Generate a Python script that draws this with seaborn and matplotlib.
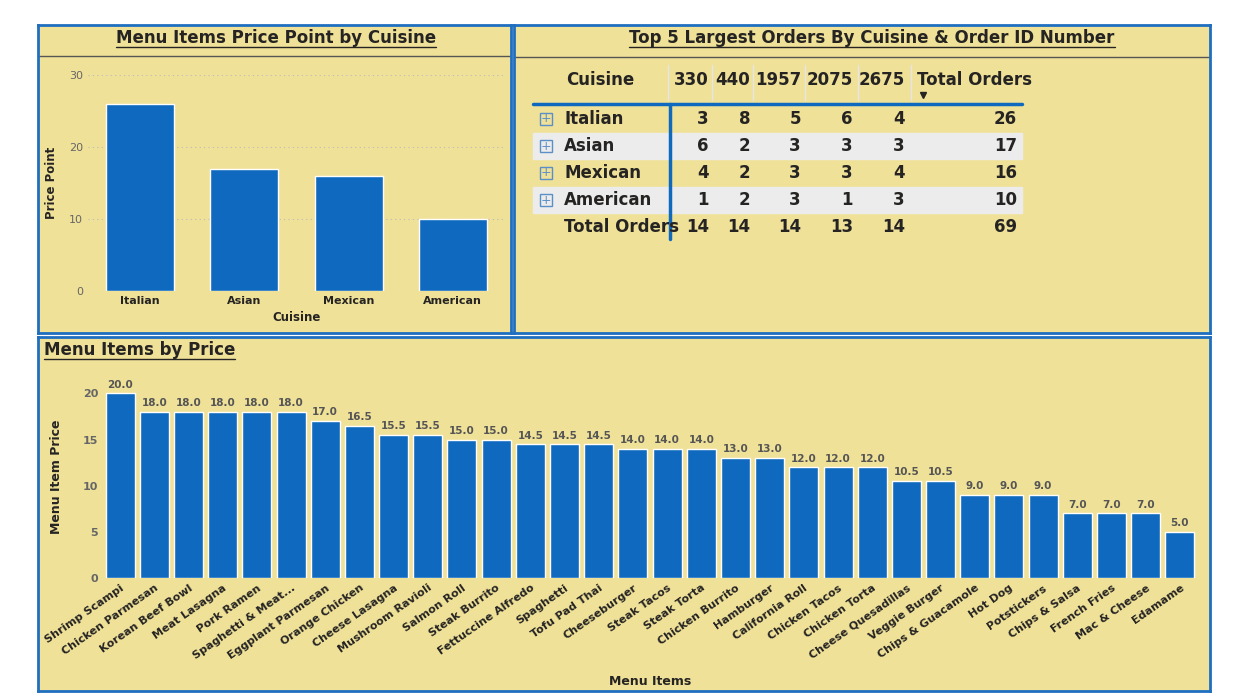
import numpy as np
import pandas as pd
import matplotlib
matplotlib.use("Agg")
import matplotlib.pyplot as plt
import seaborn as sns
from matplotlib.patches import Rectangle

# ---- data ----
cuisines = ["Italian", "Asian", "Mexican", "American"]
cuisine_price = [26, 17, 16, 10]

order_ids = ["330", "440", "1957", "2075", "2675"]
orders_italian = [3, 8, 5, 6, 4]
orders_asian = [6, 2, 3, 3, 3]
orders_mexican = [4, 2, 3, 3, 4]
orders_american = [1, 2, 3, 1, 3]

menu_items = ["Shrimp Scampi", "Chicken Parmesan", "Korean Beef Bowl", "Meat Lasagna",
              "Pork Ramen", "Spaghetti & Meat...", "Eggplant Parmesan", "Orange Chicken",
              "Cheese Lasagna", "Mushroom Ravioli", "Salmon Roll", "Steak Burrito",
              "Fettuccine Alfredo", "Spaghetti", "Tofu Pad Thai", "Cheeseburger",
              "Steak Tacos", "Steak Torta", "Chicken Burrito", "Hamburger",
              "California Roll", "Chicken Tacos", "Chicken Torta", "Cheese Quesadillas",
              "Veggie Burger", "Chips & Guacamole", "Hot Dog", "Potstickers",
              "Chips & Salsa", "French Fries", "Mac & Cheese", "Edamame"]
menu_prices = [20.0, 18.0, 18.0, 18.0, 18.0, 18.0, 17.0, 16.5, 15.5, 15.5, 15.0, 15.0,
               14.5, 14.5, 14.5, 14.0, 14.0, 14.0, 13.0, 13.0, 12.0, 12.0, 12.0, 10.5,
               10.5, 9.0, 9.0, 9.0, 7.0, 7.0, 7.0, 5.0]

BG = "#F0E198"
BLUE = "#0F6ABF"
BORDER = "#1F6FC0"
TXT = "#252423"
GREY = "#666666"

sns.set_style("white")
plt.rcParams["font.family"] = ["DejaVu Sans"]

W, H = 1235, 696
fig = plt.figure(figsize=(W / 100, H / 100), dpi=100)
fig.patch.set_facecolor("white")


def px_axes(x0, y0, x1, y1, **kw):
    return fig.add_axes([x0 / W, 1 - y1 / H, (x1 - x0) / W, (y1 - y0) / H], **kw)


def panel(x0, y0, x1, y1, title, title_x, title_y, centered=True, header_line=None):
    ax = px_axes(x0, y0, x1, y1)
    ax.set_xlim(x0, x1)
    ax.set_ylim(y1, y0)
    ax.set_facecolor(BG)
    ax.set_xticks([])
    ax.set_yticks([])
    for s in ax.spines.values():
        s.set_color(BORDER)
        s.set_linewidth(2)
    ha = "center" if centered else "left"
    t = ax.text(title_x, title_y, title, ha=ha, va="center", fontsize=12,
                fontweight="bold", color=TXT)
    fig.canvas.draw()
    bb = t.get_window_extent().transformed(ax.transData.inverted())
    ax.plot([bb.x0, bb.x1], [title_y + 9, title_y + 9], color=TXT, lw=1)
    if header_line is not None:
        ax.plot([x0, x1], [header_line, header_line], color="#555555", lw=1)
    ax.set_zorder(0)
    return ax


# ---- panels ----
panel(38, 25, 511, 333, "Menu Items Price Point by Cuisine", 276, 38, header_line=56)
tab = panel(514, 25, 1210, 333, "Top 5 Largest Orders By Cuisine & Order ID Number", 872, 38,
            header_line=57)
panel(38, 337, 1210, 691, "Menu Items by Price", 44, 350, centered=False)

# ---- top-left bar chart ----
ax1 = px_axes(88, 75, 505, 291)
ax1.set_zorder(2)
ax1.patch.set_alpha(0)
df1 = pd.DataFrame({"Cuisine": cuisines, "Price Point": cuisine_price})
sns.barplot(data=df1, x="Cuisine", y="Price Point", color=BLUE, saturation=1,
            width=0.65, ax=ax1)
ax1.set_ylim(0, 30)
ax1.set_yticks([0, 10, 20, 30])
ax1.yaxis.grid(True, linestyle=(0, (1, 3)), color="#bbbbbb")
ax1.set_axisbelow(True)
sns.despine(ax=ax1, left=True, bottom=True)
ax1.tick_params(length=0, labelsize=8)
for lbl in ax1.get_yticklabels():
    lbl.set_color(GREY)
for lbl in ax1.get_xticklabels():
    lbl.set_fontweight("bold")
    lbl.set_color(TXT)
ax1.set_xlabel("Cuisine", fontsize=8.5, fontweight="bold", color=TXT, labelpad=4)
ax1.set_ylabel("Price Point", fontsize=8.5, fontweight="bold", color=TXT, labelpad=8)

# ---- table ----
rows = [("Italian", orders_italian), ("Asian", orders_asian),
        ("Mexican", orders_mexican), ("American", orders_american)]
col_right = [709, 750, 801, 853, 905]
tot_right = 1017
row_y = [119, 146, 173, 200]
tab.set_zorder(1)
tab.text(600, 80, "Cuisine", ha="center", va="center", fontsize=12, fontweight="bold", color=TXT)
for cid, xr in zip(order_ids, col_right):
    tab.text(xr, 80, cid, ha="right", va="center", fontsize=12, fontweight="bold", color=TXT)
tab.text(917, 80, "Total Orders", ha="left", va="center", fontsize=12, fontweight="bold", color=TXT)
tab.plot([923], [95], marker="v", color=TXT, ms=5)
for i, (name, vals) in enumerate(rows):
    y = row_y[i]
    if i % 2 == 1:
        tab.add_patch(Rectangle((533, y - 13), 489, 26, color="#ECECEC", zorder=0))
    tab.add_patch(Rectangle((540, y - 6), 12, 12, fill=False, ec="#5B8FC7", lw=1, zorder=3))
    tab.text(546, y, "+", ha="center", va="center", fontsize=9, color="#5B8FC7", zorder=3)
    tab.text(564, y, name, ha="left", va="center", fontsize=12, fontweight="bold", color=TXT)
    for v, xr in zip(vals, col_right):
        tab.text(xr, y, str(v), ha="right", va="center", fontsize=12, fontweight="bold", color=TXT)
    tab.text(tot_right, y, str(sum(vals)), ha="right", va="center", fontsize=12,
             fontweight="bold", color=TXT)
col_tot = [sum(r[1][j] for r in rows) for j in range(len(order_ids))]
tab.text(564, 227, "Total Orders", ha="left", va="center", fontsize=12, fontweight="bold", color=TXT)
for v, xr in zip(col_tot, col_right):
    tab.text(xr, 227, str(v), ha="right", va="center", fontsize=12, fontweight="bold", color=TXT)
tab.text(tot_right, 227, str(sum(col_tot)), ha="right", va="center", fontsize=12,
         fontweight="bold", color=TXT)
tab.plot([533, 1022], [104, 104], color=BLUE, lw=2.5)
tab.plot([670, 670], [104, 239], color=BLUE, lw=2.5)
for xs in [668, 712, 753, 805, 858, 911]:
    tab.plot([xs, xs], [65, 100], color="#e6e6e6", lw=1)

# ---- bottom bar chart ----
ax3 = px_axes(103, 375, 1197, 578)
ax3.set_zorder(2)
ax3.patch.set_alpha(0)
df3 = pd.DataFrame({"Menu Items": menu_items, "Menu Item Price": menu_prices})
sns.barplot(data=df3, x="Menu Items", y="Menu Item Price", color=BLUE, saturation=1,
            width=0.85, ax=ax3)
ax3.set_ylim(0, 22)
ax3.set_yticks([0, 5, 10, 15, 20])
ax3.set_xlim(-0.5, len(menu_items) - 0.5)
sns.despine(ax=ax3, left=True, bottom=True)
ax3.tick_params(length=0, labelsize=8)
for lbl in ax3.get_yticklabels():
    lbl.set_color(GREY)
    lbl.set_fontweight("bold")
ax3.set_xticks(range(len(menu_items)))
ax3.set_xticklabels(menu_items, rotation=35, ha="right", rotation_mode="anchor",
                    fontsize=8, fontweight="bold", color=TXT)
for i, v in enumerate(menu_prices):
    ax3.text(i, v + 0.4, f"{v:.1f}", ha="center", va="bottom", fontsize=7.5,
             fontweight="bold", color="#555555")
ax3.set_xlabel("Menu Items", fontsize=9, fontweight="bold", color=TXT, labelpad=0)
ax3.xaxis.set_label_coords(0.5, -0.48)
ax3.set_ylabel("Menu Item Price", fontsize=9, fontweight="bold", color=TXT, labelpad=14)

fig.savefig("out.png", dpi=100, facecolor="white")
